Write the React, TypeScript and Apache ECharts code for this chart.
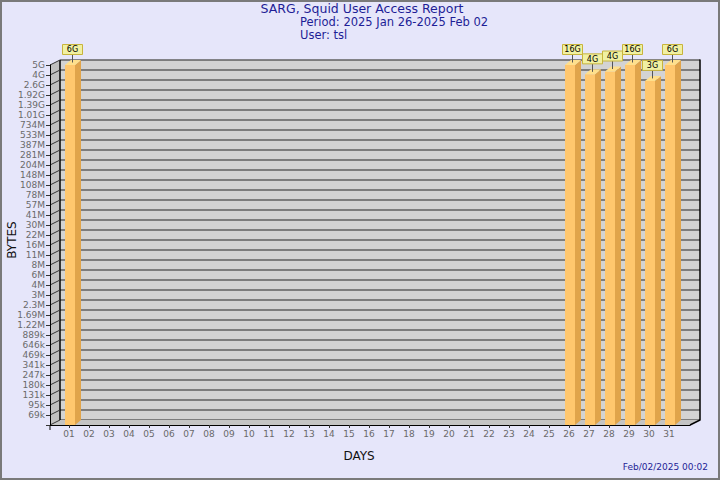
import React, { useEffect, useRef } from "react";
import * as echarts from "echarts";

// ---- data ----
const dayLabels = [
  "01", "02", "03", "04", "05", "06", "07", "08", "09", "10",
  "11", "12", "13", "14", "15", "16", "17", "18", "19", "20",
  "21", "22", "23", "24", "25", "26", "27", "28", "29", "30", "31",
];
const dayValues = [
  1, 2, 3, 4, 5, 6, 7, 8, 9, 10, 11, 12, 13, 14, 15, 16,
  17, 18, 19, 20, 21, 22, 23, 24, 25, 26, 27, 28, 29, 30, 31,
];
// level 0 is the floor (unlabelled), level 36 is the top of the wall
const yTickLabels = [
  "", "69k", "95k", "131k", "180k", "247k", "341k", "469k", "646k", "889k",
  "1.22M", "1.69M", "2.3M", "3M", "4M", "6M", "8M", "11M", "16M", "22M",
  "30M", "41M", "57M", "78M", "108M", "148M", "204M", "281M", "387M", "533M",
  "734M", "1.01G", "1.39G", "1.92G", "2.6G", "4G", "5G",
];
const barDays = [1, 26, 27, 28, 29, 30, 31];
const barBytes = [6.1e9, 15.8e9, 3.7e9, 4.05e9, 16.2e9, 3.0e9, 5.8e9];
const barLabels = ["6G", "16G", "4G", "4G", "16G", "3G", "6G"];

const titleText = "SARG, Squid User Access Report";
const periodText = "Period: 2025 Jan 26-2025 Feb 02";
const userText = "User: tsl";
const dateText = "Feb/02/2025 00:02";

// geometric byte scale of the axis
const LOG_BASE = 50.1e3;
const LOG_RATIO = 1.3767;
const Y_MAX = yTickLabels.length - 1;
const toLevel = (v: number) => Math.log(v / LOG_BASE) / Math.log(LOG_RATIO);

const FONT = "DejaVu Sans";
const DEPTH_X = 10;
const DEPTH_Y = 5;

export default function App() {
  const ref = useRef<HTMLDivElement>(null);

  useEffect(() => {
    document.body.style.margin = "0";
    if (!ref.current) return;
    const chart = echarts.init(ref.current, undefined, { renderer: "svg" });

    const levelData = yTickLabels.map((_, i) => [0.05, i]);
    const barData = barDays.map((d, i) => [d, toLevel(barBytes[i]), i]);

    const option: any = {
      animation: false,
      backgroundColor: "#e6e6fa",
      textStyle: { fontFamily: FONT },
      grid: [
        {
          left: 60, top: 60, width: 640, height: 360,
          show: true, backgroundColor: "#d3d3d3", borderWidth: 0,
        },
        { left: 50, top: 65, width: 640, height: 360 },
      ],
      xAxis: [
        { gridIndex: 0, type: "value", min: 0, max: 1, show: false },
        {
          gridIndex: 1, type: "value", min: 0.05, max: 32.05, z: 3,
          axisLine: { show: true, lineStyle: { color: "#000", width: 1 } },
          axisTick: { show: true, customValues: dayValues, length: 3, lineStyle: { color: "#333" } },
          axisLabel: {
            show: true, customValues: dayValues, margin: 4, color: "#6a6a6a",
            fontSize: 9, fontFamily: FONT,
            formatter: (v: number) => dayLabels[Math.round(v) - 1] ?? "",
          },
          splitLine: { show: false },
        },
      ],
      yAxis: [
        {
          gridIndex: 0, type: "value", min: 0, max: Y_MAX, interval: 1, z: 0,
          axisLine: { show: false },
          axisTick: { show: false },
          axisLabel: { show: false },
          splitLine: { show: true, lineStyle: { color: "#606060", width: 1.5 } },
        },
        {
          gridIndex: 0, type: "value", min: 0, max: Y_MAX, interval: 1, position: "right",
          axisLine: { show: true, lineStyle: { color: "#000", width: 1.5 } },
          axisTick: { show: false },
          axisLabel: { show: false },
          splitLine: { show: false },
        },
        {
          gridIndex: 1, type: "value", min: 0, max: Y_MAX, interval: 1, z: 3,
          axisLine: { show: true, lineStyle: { color: "#000", width: 1 } },
          axisTick: { show: true, length: 4, lineStyle: { color: "#333" } },
          axisLabel: {
            show: true, margin: 5, color: "#6a6a6a", fontSize: 9, fontFamily: FONT,
            formatter: (v: number) => yTickLabels[Math.round(v)] ?? "",
          },
          splitLine: { show: false },
        },
      ],
      series: [
        {
          type: "custom",
          name: "walls",
          xAxisIndex: 1,
          yAxisIndex: 2,
          z: 1,
          silent: true,
          data: [[0.05, 0]],
          renderItem: (params: any) => {
            const cs = params.coordSys;
            const x = cs.x, y = cs.y, w = cs.width, h = cs.height;
            return {
              type: "group",
              children: [
                {
                  type: "polygon",
                  shape: { points: [[x, y], [x + DEPTH_X, y - DEPTH_Y], [x + DEPTH_X, y + h - DEPTH_Y], [x, y + h]] },
                  style: { fill: "#c0c0c0" },
                },
                {
                  type: "polygon",
                  shape: { points: [[x, y + h], [x + DEPTH_X, y + h - DEPTH_Y], [x + w + DEPTH_X, y + h - DEPTH_Y], [x + w, y + h]] },
                  style: { fill: "#c4c4c4" },
                },
                {
                  type: "line",
                  shape: { x1: x + DEPTH_X, y1: y - DEPTH_Y, x2: x + DEPTH_X, y2: y + h - DEPTH_Y },
                  style: { stroke: "#000", lineWidth: 1.5 },
                },
                {
                  type: "line",
                  shape: { x1: x + w, y1: y + h, x2: x + w + DEPTH_X, y2: y + h - DEPTH_Y },
                  style: { stroke: "#000", lineWidth: 1.5 },
                },
                {
                  type: "line",
                  shape: { x1: x, y1: y + h, x2: x, y2: y + h + 5 },
                  style: { stroke: "#000", lineWidth: 1 },
                },
              ],
            };
          },
        },
        {
          type: "custom",
          name: "levels",
          xAxisIndex: 1,
          yAxisIndex: 2,
          z: 1,
          silent: true,
          data: levelData,
          renderItem: (params: any, api: any) => {
            const p = api.coord([api.value(0), api.value(1)]);
            const x = params.coordSys.x;
            return {
              type: "line",
              shape: { x1: x, y1: p[1], x2: x + DEPTH_X, y2: p[1] - DEPTH_Y },
              style: { stroke: "#333", lineWidth: 1 },
            };
          },
        },
        {
          type: "custom",
          name: "bytes",
          xAxisIndex: 1,
          yAxisIndex: 2,
          z: 2,
          clip: false,
          data: barData,
          renderItem: (params: any, api: any) => {
            const d = api.value(0);
            const lv = Math.min(api.value(1), Y_MAX);
            const idx = api.value(2);
            const top = api.coord([d, lv]);
            const bot = api.coord([d, 0]);
            const c = top[0];
            const T = top[1];
            const B = bot[1];
            const bx = 6, by = 5;
            const lc = c + 3.5;
            return {
              type: "group",
              children: [
                {
                  type: "rect",
                  shape: { x: c - 4, y: T, width: 10, height: B - T },
                  style: { fill: "#ffc76e" },
                },
                {
                  type: "polygon",
                  shape: { points: [[c + 6, T], [c + 6 + bx, T - by], [c + 6 + bx, B - by], [c + 6, B]] },
                  style: { fill: "#e0a44b" },
                },
                {
                  type: "polygon",
                  shape: { points: [[c - 4, T], [c + 6, T], [c + 6 + bx, T - by], [c - 4 + bx, T - by]] },
                  style: { fill: "#ffe08c" },
                },
                {
                  type: "line",
                  shape: { x1: lc, y1: T - 10.5, x2: lc, y2: T - 2.5 },
                  style: { stroke: "#555", lineWidth: 1 },
                },
                {
                  type: "rect",
                  shape: { x: lc - 10, y: T - 20.5, width: 20, height: 10 },
                  style: { fill: "#f0f0a2", stroke: "#c8b43c", lineWidth: 1 },
                },
                {
                  type: "text",
                  style: {
                    text: barLabels[idx], x: lc, y: T - 15.3, align: "center", verticalAlign: "middle",
                    font: `8px "${FONT}"`, fill: "#000",
                  },
                },
              ],
            };
          },
        },
      ],
      graphic: [
        {
          type: "rect", silent: true, z: 10,
          shape: { x: 1, y: 1, width: 718, height: 478 },
          style: { fill: "none", stroke: "#7a7a7a", lineWidth: 2 },
        },
        {
          type: "text", x: 362, y: 8.5,
          style: { text: titleText, align: "center", verticalAlign: "middle", font: `12.5px "${FONT}"`, fill: "#1e1e96" },
        },
        {
          type: "text", x: 300, y: 22.3,
          style: { text: periodText, align: "left", verticalAlign: "middle", font: `11.5px "${FONT}"`, fill: "#1e1e96" },
        },
        {
          type: "text", x: 300, y: 35.3,
          style: { text: userText, align: "left", verticalAlign: "middle", font: `11.5px "${FONT}"`, fill: "#1e1e96" },
        },
        {
          type: "text", x: 359, y: 455.5,
          style: { text: "DAYS", align: "center", verticalAlign: "middle", font: `12px "${FONT}"`, fill: "#111" },
        },
        {
          type: "text", x: 12, y: 240, rotation: Math.PI / 2,
          style: { text: "BYTES", align: "center", verticalAlign: "middle", font: `12px "${FONT}"`, fill: "#111" },
        },
        {
          type: "text", x: 708, y: 467,
          style: { text: dateText, align: "right", verticalAlign: "middle", font: `9px "${FONT}"`, fill: "#1e1e96" },
        },
      ],
    };

    chart.setOption(option);
    return () => chart.dispose();
  }, []);

  return <div ref={ref} style={{ width: 720, height: 480 }} />;
}
